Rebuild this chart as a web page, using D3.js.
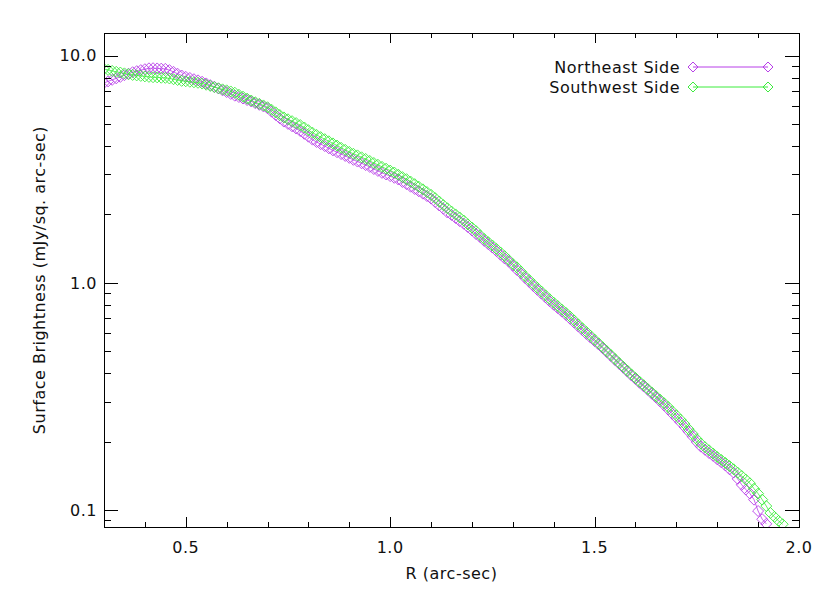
<!DOCTYPE html>
<html>
<head>
<meta charset="utf-8">
<script src="https://cdn.jsdelivr.net/npm/d3@7/dist/d3.min.js"></script>
<style>
  html, body { margin: 0; padding: 0; background: #fff; }
  svg { display: block; }
  text { font-family: "DejaVu Sans", sans-serif; fill: #111; }
</style>
</head>
<body>
<svg id="chart" width="830" height="593"></svg>
<script>
// ---- data ----
const rStart = 0.30, rStep = 0.01;
const northeast = [
  7.59, 7.71, 7.83, 7.95, 8.07, 8.21, 8.33, 8.46, 8.55, 8.64,
  8.72, 8.80, 8.81, 8.79, 8.77, 8.75, 8.64, 8.49, 8.33, 8.18,
  8.07, 7.98, 7.88, 7.79, 7.68, 7.55, 7.42, 7.30, 7.17, 7.04,
  6.92, 6.79, 6.67, 6.58, 6.48, 6.38, 6.29, 6.18, 6.08, 5.98,
  5.87, 5.67, 5.48, 5.30, 5.13, 5.01, 4.89, 4.78, 4.66, 4.53,
  4.40, 4.27, 4.17, 4.08, 4.00, 3.91, 3.83, 3.76, 3.69, 3.62,
  3.55, 3.48, 3.42, 3.36, 3.30, 3.24, 3.17, 3.11, 3.05, 3.00,
  2.95, 2.90, 2.85, 2.78, 2.72, 2.65, 2.59, 2.53, 2.47, 2.41,
  2.35, 2.27, 2.19, 2.12, 2.04, 1.99, 1.93, 1.87, 1.82, 1.76,
  1.70, 1.64, 1.59, 1.53, 1.48, 1.43, 1.38, 1.33, 1.28, 1.24,
  1.19, 1.14, 1.10, 1.05, 1.01, 0.969, 0.932, 0.897, 0.863, 0.830,
  0.801, 0.774, 0.747, 0.722, 0.695, 0.669, 0.643, 0.619, 0.596, 0.574,
  0.554, 0.535, 0.515, 0.495, 0.476, 0.457, 0.440, 0.423, 0.407, 0.391,
  0.377, 0.363, 0.350, 0.338, 0.325, 0.313, 0.301, 0.289, 0.277, 0.265,
  0.254, 0.243, 0.232, 0.221, 0.210, 0.199, 0.190, 0.184, 0.178, 0.173,
  0.167, 0.162, 0.157, 0.151, 0.146, 0.137, 0.129, 0.123, 0.118, 0.111,
  0.0989, 0.0910, 0.0868
];
const southwest = [
  8.74, 8.66, 8.57, 8.49, 8.43, 8.36, 8.29, 8.23, 8.19, 8.15,
  8.11, 8.07, 8.04, 8.03, 8.00, 7.99, 7.94, 7.88, 7.82, 7.75,
  7.72, 7.68, 7.64, 7.60, 7.54, 7.45, 7.36, 7.27, 7.19, 7.11,
  7.04, 6.96, 6.87, 6.73, 6.60, 6.47, 6.35, 6.24, 6.14, 6.04,
  5.93, 5.78, 5.63, 5.48, 5.35, 5.25, 5.15, 5.05, 4.95, 4.83,
  4.70, 4.58, 4.48, 4.38, 4.29, 4.20, 4.11, 4.02, 3.93, 3.85,
  3.77, 3.70, 3.64, 3.57, 3.51, 3.44, 3.37, 3.31, 3.24, 3.18,
  3.12, 3.06, 2.99, 2.92, 2.86, 2.79, 2.72, 2.65, 2.58, 2.51,
  2.44, 2.36, 2.28, 2.20, 2.13, 2.06, 2.00, 1.94, 1.88, 1.81,
  1.75, 1.69, 1.62, 1.56, 1.51, 1.46, 1.41, 1.36, 1.31, 1.26,
  1.21, 1.17, 1.12, 1.07, 1.03, 0.988, 0.951, 0.915, 0.880, 0.847,
  0.818, 0.790, 0.762, 0.737, 0.710, 0.683, 0.656, 0.631, 0.608, 0.585,
  0.562, 0.541, 0.520, 0.500, 0.481, 0.462, 0.444, 0.427, 0.411, 0.395,
  0.381, 0.367, 0.354, 0.341, 0.329, 0.317, 0.306, 0.295, 0.284, 0.272,
  0.261, 0.250, 0.239, 0.227, 0.216, 0.205, 0.196, 0.189, 0.183, 0.177,
  0.171, 0.166, 0.161, 0.156, 0.151, 0.146, 0.141, 0.136, 0.131, 0.124,
  0.118, 0.111, 0.104, 0.0970, 0.0932, 0.0895, 0.0865
];
const seriesNames = ["Northeast Side", "Southwest Side"];
const seriesColors = ["#b83ee8", "#3cec3c"];
const xDomain = [0.3, 2.0];
const yDomain = [0.0841, 12.59];
const xMajorTicks = [0.5, 1.0, 1.5, 2.0];
const xTickLabels = ["0.5", "1.0", "1.5", "2.0"];
const yMajorTicks = [0.1, 1.0, 10.0];
const yTickLabels = ["0.1", "1.0", "10.0"];
const xTitle = "R (arc-sec)";
const yTitle = "Surface Brightness (mJy/sq. arc-sec)";

(function () {
  // ---- layout ----
  const pL = 104, pR = 799, pT = 33, pB = 527;
  const svg = d3.select("#chart");
  svg.append("rect").attr("width", 830).attr("height", 593).attr("fill", "#fff");

  const x = d3.scaleLinear().domain(xDomain).range([pL, pR]);
  const y = d3.scaleLog().domain(yDomain).range([pB, pT]);

  const xMinor = d3.range(3, 21).map(d => d / 10).filter(v => !xMajorTicks.some(m => Math.abs(m - v) < 1e-9));
  const yMinor = [];
  [0.01, 0.1, 1, 10].forEach(dec => {
    for (let k = 2; k <= 9; k++) {
      const v = dec * k;
      if (v > yDomain[0] && v < yDomain[1]) yMinor.push(v);
    }
  });

  svg.append("clipPath").attr("id", "clip").append("rect")
    .attr("x", pL).attr("y", pT).attr("width", pR - pL).attr("height", pB - pT);

  const diamond = (cx, cy, r) => `M${cx},${cy - r}L${cx + r},${cy}L${cx},${cy + r}L${cx - r},${cy}Z`;

  const plot = svg.append("g").attr("clip-path", "url(#clip)");
  [northeast, southwest].forEach((vals, i) => {
    const pts = vals.map((v, j) => [rStart + j * rStep, v]);
    plot.append("path")
      .attr("d", d3.line().x(d => x(d[0])).y(d => y(d[1]))(pts))
      .attr("fill", "none").attr("stroke", seriesColors[i]).attr("stroke-width", 0.8);
    plot.append("path")
      .attr("d", pts.map(d => diamond(x(d[0]), y(d[1]), 5.5)).join(""))
      .attr("fill", "none").attr("stroke", seriesColors[i]).attr("stroke-width", 0.9);
  });

  // ---- axes (ticks on all four sides) ----
  svg.append("rect").attr("x", pL).attr("y", pT).attr("width", pR - pL).attr("height", pB - pT)
    .attr("fill", "none").attr("stroke", "#000").attr("stroke-width", 1).attr("shape-rendering", "crispEdges");

  const axesDefs = [
    [d3.axisBottom(x).tickValues(xMajorTicks).tickSize(-10), `translate(0,${pB})`],
    [d3.axisBottom(x).tickValues(xMinor).tickSize(-5), `translate(0,${pB})`],
    [d3.axisTop(x).tickValues(xMajorTicks).tickSize(-10), `translate(0,${pT})`],
    [d3.axisTop(x).tickValues(xMinor).tickSize(-5), `translate(0,${pT})`],
    [d3.axisLeft(y).tickValues(yMajorTicks).tickSize(-14), `translate(${pL},0)`],
    [d3.axisLeft(y).tickValues(yMinor).tickSize(-7), `translate(${pL},0)`],
    [d3.axisRight(y).tickValues(yMajorTicks).tickSize(-14), `translate(${pR},0)`],
    [d3.axisRight(y).tickValues(yMinor).tickSize(-7), `translate(${pR},0)`]
  ];
  axesDefs.forEach(([ax, tr]) => {
    const g = svg.append("g").attr("transform", tr).call(ax.tickFormat(""));
    g.select(".domain").remove();
    g.selectAll(".tick text").remove();
    g.selectAll(".tick line").attr("stroke", "#000").attr("shape-rendering", "crispEdges");
  });

  // tick labels
  svg.append("g").selectAll("text").data(xMajorTicks).join("text")
    .attr("x", d => x(d)).attr("y", 553)
    .attr("text-anchor", "middle").attr("font-size", 16).attr("letter-spacing", 0.5)
    .text((d, i) => xTickLabels[i]);
  svg.append("g").selectAll("text").data(yMajorTicks).join("text")
    .attr("x", 97).attr("y", d => y(d)).attr("dy", "0.36em")
    .attr("text-anchor", "end").attr("font-size", 16).attr("letter-spacing", 0.5)
    .text((d, i) => yTickLabels[i]);

  // axis titles
  svg.append("text").attr("x", (pL + pR) / 2).attr("y", 579)
    .attr("text-anchor", "middle").attr("font-size", 16).attr("letter-spacing", 0.5).text(xTitle);
  svg.append("text").attr("transform", `translate(45,${(pT + pB) / 2}) rotate(-90)`)
    .attr("text-anchor", "middle").attr("font-size", 16).attr("letter-spacing", 0.5).text(yTitle);

  // legend
  const legend = svg.append("g");
  seriesNames.forEach((name, i) => {
    const ly = 67 + i * 20;
    legend.append("text").attr("x", 680).attr("y", ly).attr("dy", "0.36em")
      .attr("text-anchor", "end").attr("font-size", 16).attr("letter-spacing", 0.5).text(name);
    legend.append("line").attr("x1", 693).attr("x2", 768).attr("y1", ly).attr("y2", ly)
      .attr("stroke", seriesColors[i]).attr("stroke-width", 1);
    legend.append("path").attr("d", diamond(693, ly, 5) + diamond(768, ly, 5))
      .attr("fill", "none").attr("stroke", seriesColors[i]).attr("stroke-width", 1);
  });
})();
</script>
</body>
</html>
